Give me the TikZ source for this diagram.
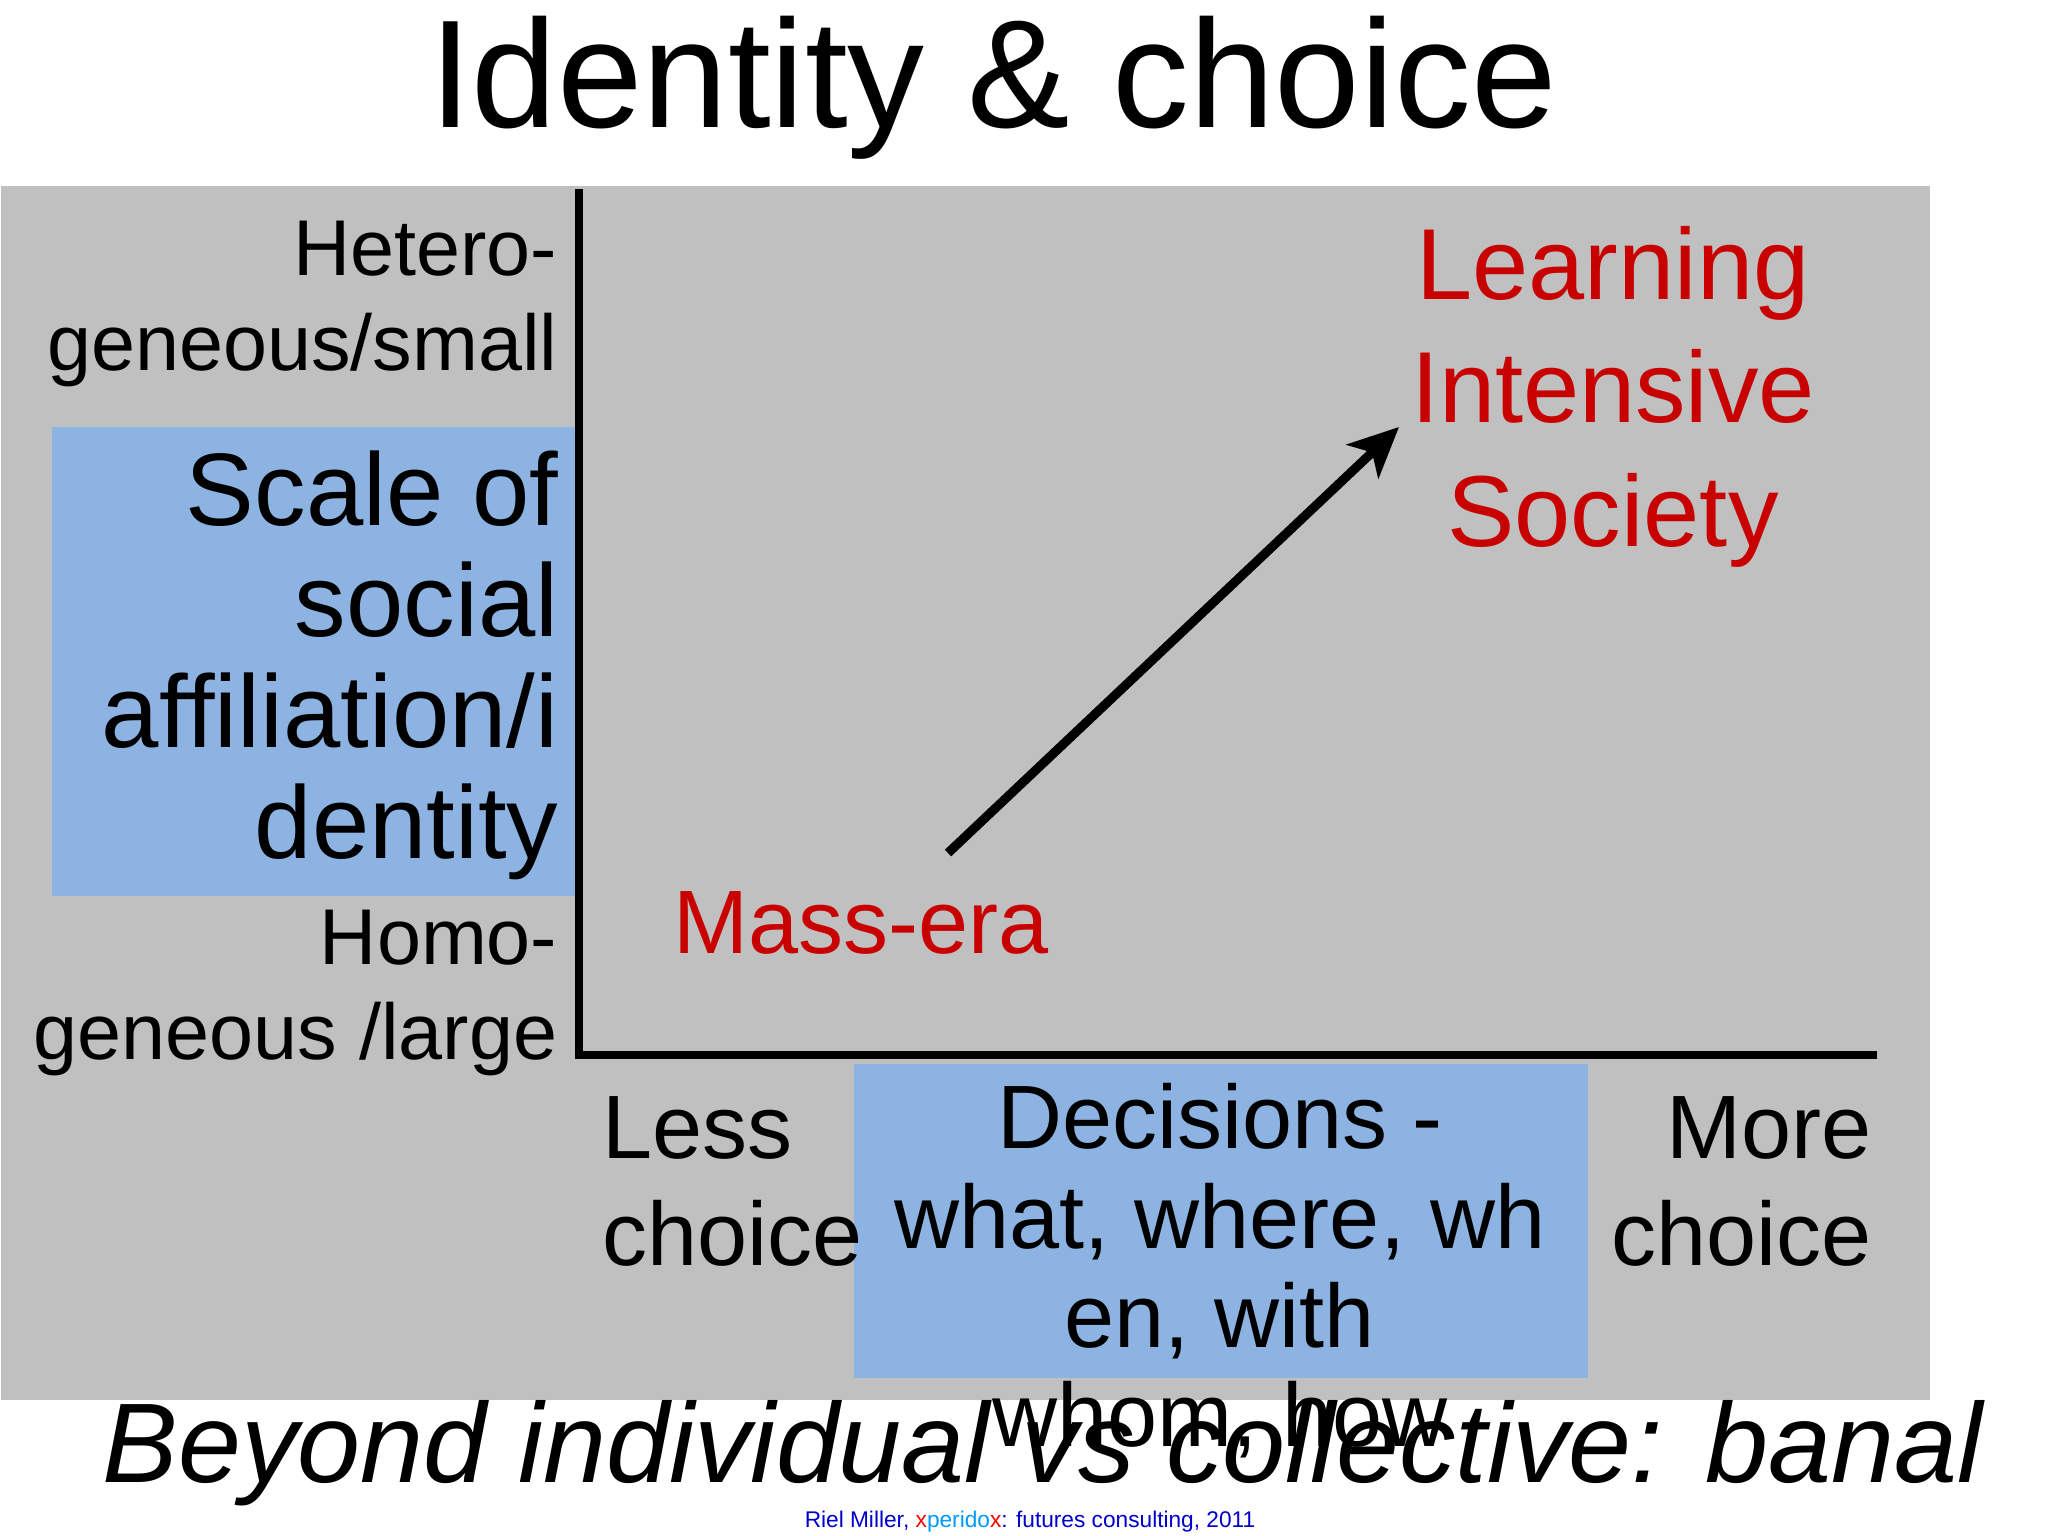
\documentclass[tikz,border=0pt]{standalone}
\usepackage{fontspec}
\setmainfont{Liberation Sans}
\usepackage{tikz}
\usetikzlibrary{arrows.meta,positioning}
\definecolor{slidegray}{RGB}{192,192,192}
\definecolor{boxblue}{RGB}{141,179,226}
\definecolor{erared}{RGB}{200,0,0}
\definecolor{credblue}{RGB}{0,0,204}
\definecolor{credsky}{RGB}{0,153,255}
\definecolor{credred}{RGB}{255,0,0}
\tikzset{
  panel/.style={rectangle,fill=slidegray,inner sep=0pt,anchor=north west},
  bluebox/.style={rectangle,fill=boxblue,inner sep=0pt,anchor=north west},
  axisline/.style={line width=2pt,line join=miter,color=black},
  arr/.style={-{Stealth[length=0.5cm,width=0.46cm,inset=0.13cm]},line width=2.6pt,color=black},
  ends/.style={inner sep=0pt,align=right,anchor=north east,
    font=\fontsize{22.5}{27}\selectfont},
  scaletxt/.style={inner sep=0pt,align=right,anchor=north east,
    font=\fontsize{29.3}{31.6}\selectfont},
  era/.style={inner sep=0pt,align=center,text=erared,
    font=\fontsize{28.7}{35}\selectfont},
  choice/.style={inner sep=0pt,font=\fontsize{25.6}{30.4}\selectfont},
  decide/.style={inner sep=0pt,align=center,anchor=north,
    font=\fontsize{25.6}{28.2}\selectfont}
}
\begin{document}
\begin{tikzpicture}[x=0.01cm,y=-0.01cm]
  \useasboundingbox (0,0) rectangle (2048,1536);
  \node[panel,minimum width=19.28cm,minimum height=12.14cm] (slide) at (0,185) {};
  \node[bluebox,minimum width=5.24cm,minimum height=4.69cm] (scalebox) at (51,426) {};
  \node[bluebox,minimum width=7.34cm,minimum height=3.14cm] (decbox) at (853,1063) {};

  % axes
  \coordinate (origin) at (579,1055);
  \coordinate (ytop) at (579,189);
  \coordinate (xend) at (1877,1055);
  \draw[axisline] (ytop) -- (origin) -- (xend);

  \node[inner sep=0pt,anchor=base,font=\fontsize{43.7}{50}\selectfont] (title) at (993,127) {Identity \& choice};

  \node[ends] (hetero) at (558,220) {Hetero-\\geneous/small};
  \node[ends] (homo) at (558,909) {Homo-\\geneous /large};
  \node[scaletxt] (scale) at (559,450) {Scale of\\social\\affiliation/i\\dentity};

  \node[era,anchor=north] (lis) at (1613,226) {Learning\\Intensive\\Society};
  \node[era,anchor=base west,font=\fontsize{25.6}{30}\selectfont] (mass) at (673,953) {Mass-era};
  \coordinate (arrstart) at (948,853);
  \coordinate (arrend) at (1399,427);
  \draw[arr] (arrstart) -- (arrend);

  \node[choice,align=left,anchor=north west] (less) at (602,1096) {Less\\choice};
  \node[choice,align=right,anchor=north east] (more) at (1872,1096) {More\\choice};
  \node[decide] (decisions) at (1220,1083) {Decisions -\\what, where, wh\\en, with\\whom, how};

  \node[inner sep=0pt,anchor=base west,font=\fontsize{32.2}{38}\selectfont\itshape] (beyond) at (102,1482) {Beyond individual vs collective: banal};
  \node[inner sep=0pt,anchor=base,font=\fontsize{6.45}{8}\selectfont,text=credblue] (credit) at (1030,1527)
    {Riel Miller, \textcolor{credred}{x}\textcolor{credsky}{perido}\textcolor{credred}{x}: futures consulting, 2011};
\end{tikzpicture}
\end{document}
